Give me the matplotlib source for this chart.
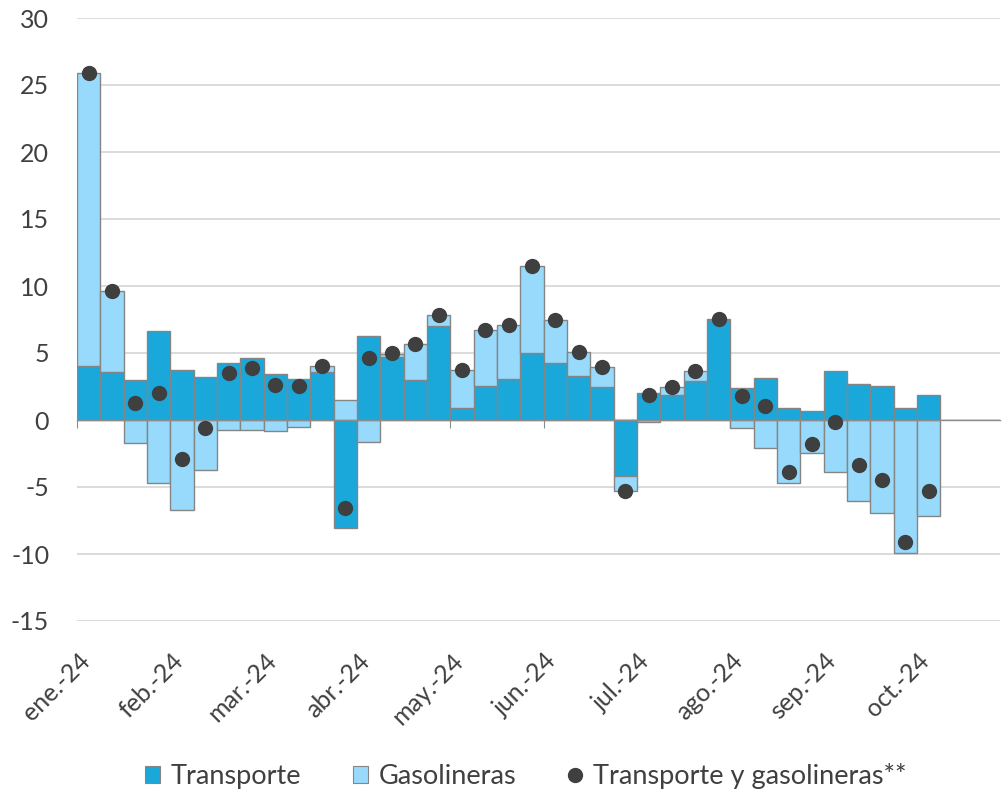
import numpy as np
import matplotlib
matplotlib.use("Agg")
import matplotlib.pyplot as plt
from matplotlib.patches import Patch
from matplotlib.lines import Line2D
from matplotlib.transforms import ScaledTranslation

# ---- data (weekly, % change) ----
transporte = [4.05, 3.56, 2.98, 6.67, 3.73, 3.18, 4.23, 4.60, 3.41, 3.06, 3.56, -8.08,
              6.27, 4.73, 2.99, 7.01, 0.90, 2.56, 3.06, 5.03, 4.28, 3.28, 2.49, -4.15,
              1.99, 1.87, 2.91, 7.46, 2.41, 3.16, 0.87, 0.67, 3.66, 2.66, 2.54, 0.87, 1.87]
gasolineras = [21.85, 6.07, -1.74, -4.73, -6.72, -3.73, -0.75, -0.75, -0.82, -0.50, 0.49, 1.49,
               -1.66, 0.20, 2.66, 0.80, 2.83, 4.13, 4.00, 6.46, 3.18, 1.82, 1.44, -1.15,
               -0.12, 0.57, 0.72, 0.05, -0.62, -2.11, -4.73, -2.49, -3.86, -6.04, -6.97, -9.95, -7.14]
total = [25.90, 9.63, 1.24, 1.99, -2.94, -0.57, 3.48, 3.85, 2.61, 2.54, 4.05, -6.54,
         4.65, 4.98, 5.65, 7.81, 3.73, 6.69, 7.06, 11.49, 7.46, 5.10, 3.93, -5.30,
         1.87, 2.44, 3.63, 7.51, 1.79, 1.04, -3.86, -1.82, -0.17, -3.36, -4.48, -9.08, -5.27]
month_labels = ["ene.-24", "feb.-24", "mar.-24", "abr.-24", "may.-24",
                "jun.-24", "jul.-24", "ago.-24", "sep.-24", "oct.-24"]
weeks_per_month = 4
y_ticks = [-15, -10, -5, 0, 5, 10, 15, 20, 25, 30]

C_T = "#1AA7DA"
C_G = "#97DAFC"
C_EDGE = "#858585"
C_DOT = "#3F3F3F"
C_TXT = "#404040"
FS = 18
FS_LEG = 19.5

plt.rcParams['font.family'] = ['Lato', 'DejaVu Sans']

T = np.array(transporte)
G = np.array(gasolineras)
x = np.arange(len(T)) + 0.5
g_bottom = np.where(np.sign(G) == np.sign(T), T, 0.0)

fig = plt.figure(figsize=(10.02, 7.93), dpi=100)
ax = fig.add_axes([77/1002, 172/793, (1000-77)/1002, (621-18)/793])

ax.bar(x, T, width=1.0, color=C_T, edgecolor=C_EDGE, linewidth=1.0, zorder=3)
ax.bar(x, G, width=1.0, bottom=g_bottom, color=C_G, edgecolor=C_EDGE, linewidth=1.0, zorder=3)
ax.plot(x, total, 'o', color=C_DOT, markersize=10, zorder=5)

ax.set_ylim(-15, 30)
ax.set_xlim(0, 39.56)
ax.set_yticks(y_ticks)
ax.set_yticklabels([str(v) for v in y_ticks])
ax.yaxis.grid(True, color="#d9d9d9", linewidth=1.3, zorder=0)
ax.set_axisbelow(True)
for s in ["top", "right", "left"]:
    ax.spines[s].set_visible(False)
ax.spines["bottom"].set_position(("data", 0))
ax.spines["bottom"].set_color("#8c8c8c")
ax.spines["bottom"].set_linewidth(1.0)
ax.spines["bottom"].set_zorder(4)
ax.tick_params(axis="y", length=0, pad=20, labelsize=FS, labelcolor=C_TXT)

month_pos = np.arange(len(month_labels)) * weeks_per_month
ax.set_xticks(month_pos)
ax.tick_params(axis="x", direction="out", length=6, color="#8c8c8c", labelbottom=False)

sec = ax.secondary_xaxis(0)
sec.set_xticks(month_pos)
sec.set_xticklabels(month_labels)
sec.spines["bottom"].set_visible(False)
sec.tick_params(axis="x", length=0, pad=26, labelsize=FS, labelcolor=C_TXT)
off = ScaledTranslation(9/100, 0, fig.dpi_scale_trans)
for lab in sec.get_xticklabels():
    lab.set_rotation(45)
    lab.set_ha("right")
    lab.set_va("center")
    lab.set_rotation_mode("anchor")
    lab.set_transform(lab.get_transform() + off)

handles = [
    Patch(facecolor=C_T, edgecolor=C_EDGE, linewidth=0.8, label="Transporte"),
    Patch(facecolor=C_G, edgecolor=C_EDGE, linewidth=0.8, label="Gasolineras"),
    Line2D([], [], marker='o', linestyle='none', color=C_DOT, markersize=10,
           label="Transporte y gasolineras**"),
]
fig.legend(handles=handles, loc="center", bbox_to_anchor=(526/1002, 17/793), ncol=3,
           frameon=False, fontsize=FS_LEG, labelcolor=C_TXT, handlelength=0.55,
           handleheight=0.55, handletextpad=0.4, columnspacing=1.9)

fig.savefig("out.png", dpi=100)
